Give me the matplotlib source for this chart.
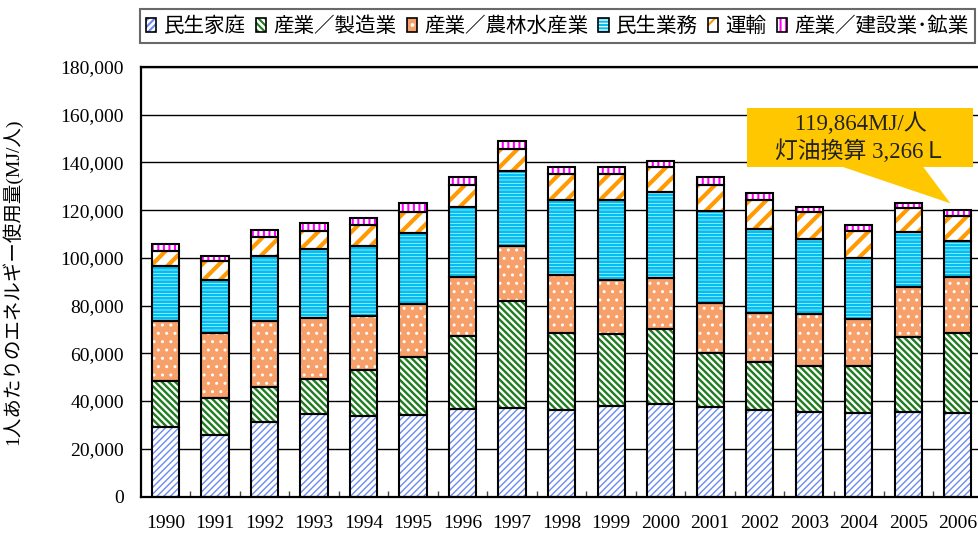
import numpy as np
import matplotlib.pyplot as plt
from matplotlib.patches import Patch

plt.rcParams['font.family'] = ['Liberation Serif', 'Noto Sans CJK JP', 'DejaVu Sans']

#--- data: per-capita energy use (MJ/person)
years = [str(y) for y in range(1990, 2007)]
household     = [29300, 25800, 31400, 34500, 33800, 34200, 36600, 37200, 36300, 37900, 38700, 37600, 36300, 35600, 34900, 35600, 34900]
manufacturing = [19300, 15600, 14400, 14900, 19200, 24200, 30700, 44900, 32400, 30100, 31400, 22400, 20000, 19200, 19900, 31400, 33500]
agriculture   = [25100, 27200, 27900, 25600, 22800, 22300, 24900, 22900, 24200, 22800, 21400, 21300, 20800, 21600, 19500, 21000, 23800]
commercial    = [22900, 22300, 27100, 28600, 29200, 29900, 29300, 31600, 31400, 33500, 36300, 38500, 34900, 31600, 25700, 22800, 14900]
transport     = [6300, 8000, 8100, 7800, 8800, 8800, 9100, 9100, 10800, 10800, 10100, 10800, 12300, 11300, 11300, 9900, 10600]
construction  = [3000, 1900, 2800, 3100, 2800, 3800, 3100, 3100, 2900, 2900, 2900, 3200, 2800, 2200, 2400, 2200, 2164]

labels = ['民生家庭', '産業／製造業', '産業／農林水産業', '民生業務', '運輸', '産業／建設業･鉱業']
series = [household, manufacturing, agriculture, commercial, transport, construction]

# face colour, hatch, hatch colour, hatch linewidth
styles = [
    ('white',   '/' * 5,    '#6A8CF0', 1.0),
    ('white',   '\\' * 5,   '#1E7B1E', 1.7),
    ('#F7A06A', '..',       'white',   1.0),
    ('white',   '-' * 5,    '#00BFF3', 2.0),
    ('white',   '//',       '#FF9A00', 3.0),
    ('white',   '|||',      '#FF00FF', 1.5),
]

callout_text = '　119,864MJ/人　\n　灯油換算 3,266Ｌ　'

#--- plot
fig = plt.figure(figsize=(9.79, 5.36), dpi=100)
ax = fig.add_axes([140.6/979, 39.5/536, 842/979, 429.5/536])

x = np.arange(len(years))
width = 0.55
bottom = np.zeros(len(years))
handles = []
for vals, (face, hatch, hc, hlw), lab in zip(series, styles, labels):
    vals = np.array(vals, dtype=float)
    plt.rcParams['hatch.linewidth'] = hlw
    bars = ax.bar(x, vals, width, bottom=bottom, color=face, hatch=hatch,
                  edgecolor=hc, linewidth=0, zorder=2)
    for p in bars:
        try:
            p.set_hatch_linewidth(hlw)
        except AttributeError:
            pass
    ax.bar(x, vals, width, bottom=bottom, fill=False, edgecolor='black',
           linewidth=1.5, zorder=3)
    hp = Patch(facecolor=face, hatch=hatch, edgecolor=hc, linewidth=0)
    try:
        hp.set_hatch_linewidth(hlw)
    except AttributeError:
        pass
    handles.append((hp, Patch(fill=False, edgecolor='black', linewidth=1.2)))
    bottom += vals

ax.set_xlim(-0.5, len(years) - 0.5)
ax.set_ylim(0, 180000)
ax.set_yticks(np.arange(0, 180001, 20000))
ax.set_yticklabels([f'{v:,}' for v in range(0, 180001, 20000)])
ax.set_xticks(x)
ax.set_xticklabels(years)
ax.set_xticks(x[:-1] + 0.5, minor=True)
ax.tick_params(axis='y', length=0, pad=12, labelsize=14)
ax.tick_params(axis='x', which='major', length=0, pad=13, labelsize=14)
ax.tick_params(axis='x', which='minor', direction='in', length=4, width=1, color='#444444')
ax.yaxis.grid(True, color='black', linewidth=1.0)
ax.set_axisbelow(True)
for s in ['top', 'left', 'bottom']:
    ax.spines[s].set_linewidth(1.6)
ax.spines['right'].set_visible(False)

ax.set_ylabel('1人あたりのエネルギー使用量(MJ/人)', fontsize=14)
ax.yaxis.set_label_coords(-0.141, 0.50)

leg = fig.legend(handles, labels, loc='upper left', bbox_to_anchor=(140/979, 1 - 9/536),
                 ncol=6, frameon=True, fancybox=False,
                 handlelength=0.5, handleheight=0.7, handletextpad=0.35,
                 columnspacing=0.5, borderpad=0.3, borderaxespad=0,
                 prop={'family': ['Noto Sans CJK JP'], 'size': 14.8})
leg.get_frame().set_edgecolor('#444444')
leg.get_frame().set_linewidth(1.5)

ax.annotate(callout_text, xy=(15.85, bottom[-1] + 3000), xytext=(14.03, 150300),
            ha='center', va='center', fontsize=16.5, color='#222222', linespacing=1.2,
            bbox=dict(boxstyle='square,pad=0.2', fc='#FFC700', ec='none'),
            arrowprops=dict(arrowstyle='wedge,tail_width=2.5', fc='#FFC700', ec='none',
                            patchA=None, shrinkA=0, shrinkB=0, mutation_scale=20),
            zorder=5)

fig.savefig('out.png', dpi=100)
